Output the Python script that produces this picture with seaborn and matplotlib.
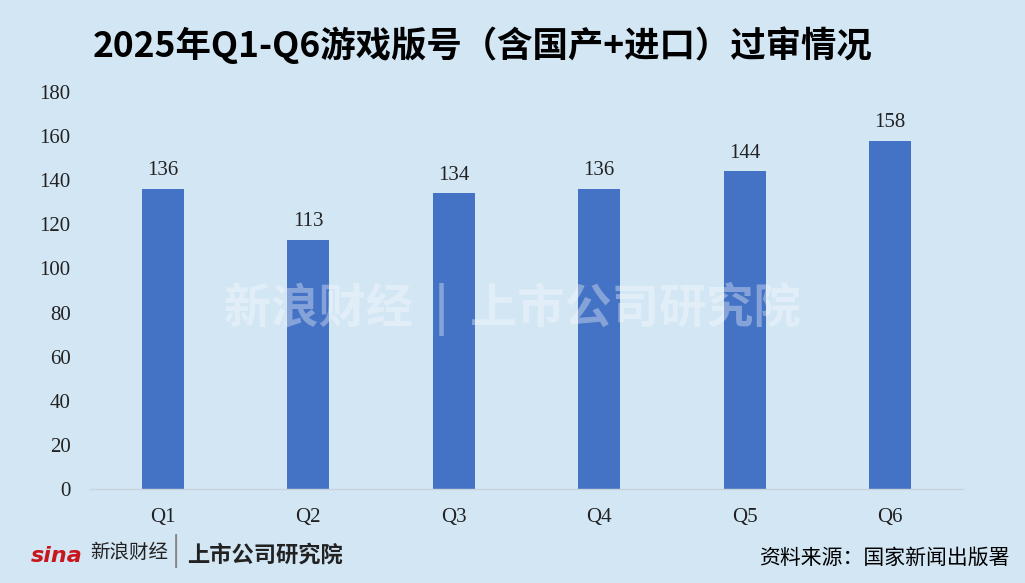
import numpy as np
import pandas as pd
import matplotlib
matplotlib.use("Agg")
import matplotlib.pyplot as plt
import seaborn as sns

# data
quarters = ["Q1", "Q2", "Q3", "Q4", "Q5", "Q6"]
approved = [136, 113, 134, 136, 144, 158]
title = "2025年Q1-Q6游戏版号（含国产+进口）过审情况"
source = "资料来源：国家新闻出版署"

bg = "#d2e6f4"
bar_color = "#4472c4"

sns.set_theme(style="white")
plt.rcParams['font.family'] = ['Noto Sans CJK SC', 'DejaVu Sans']

df = pd.DataFrame({"quarter": quarters, "count": approved})

fig = plt.figure(figsize=(10.25, 5.83), dpi=100, facecolor=bg)
ax = fig.add_axes([90/1025, 1-489/583, (963-90)/1025, (489-92)/583])
ax.set_facecolor(bg)

sns.barplot(data=df, x="quarter", y="count", color=bar_color, width=0.29,
            saturation=1, linewidth=0, edgecolor="none", ax=ax)

ax.set_ylim(0, 180)
ax.set_yticks(np.arange(0, 181, 20))
ax.set_xlim(-0.5, len(quarters)-0.5)
ax.set_xlabel("")
ax.set_ylabel("")

for s in ["top", "right", "left"]:
    ax.spines[s].set_visible(False)
ax.spines["bottom"].set_color("#c9d3dc")
ax.spines["bottom"].set_linewidth(1)

serif = ['Liberation Serif', 'DejaVu Serif']
for lab in ax.get_yticklabels() + ax.get_xticklabels():
    lab.set_family(serif)
    lab.set_fontsize(15)
    lab.set_color("#222222")
ax.tick_params(axis="y", length=0, pad=14)
ax.tick_params(axis="x", length=0, pad=14)

for i, v in enumerate(approved):
    ax.text(i, v + 4, str(v), ha="center", va="bottom", fontsize=15,
            family=serif, color="#222222")

# faint watermark
fig.text(0.5, 0.47, "新浪财经  |  上市公司研究院", ha="center", va="center",
         fontsize=34, color="white", alpha=0.35, weight="bold", zorder=0)

fig.text(0.091, 0.923, title, ha="left", va="center", fontsize=25.5,
         weight="bold", color="black")

# bottom logos and source
fig.text(0.03, 0.03, "sina", fontsize=16, weight="bold", style="italic",
         color="#c8161d", family=['DejaVu Sans'], va="bottom")
fig.text(0.088, 0.035, "新浪财经", fontsize=14, color="#222222", va="bottom")
fig.text(0.168, 0.025, "|", fontsize=22, color="#888888", va="bottom")
fig.text(0.183, 0.028, "上市公司研究院", fontsize=16, weight="bold",
         style="italic", color="#222222", va="bottom")
fig.text(0.985, 0.025, source, ha="right", va="bottom", fontsize=15,
         color="black")

fig.savefig("out.png", dpi=100, facecolor=bg)
